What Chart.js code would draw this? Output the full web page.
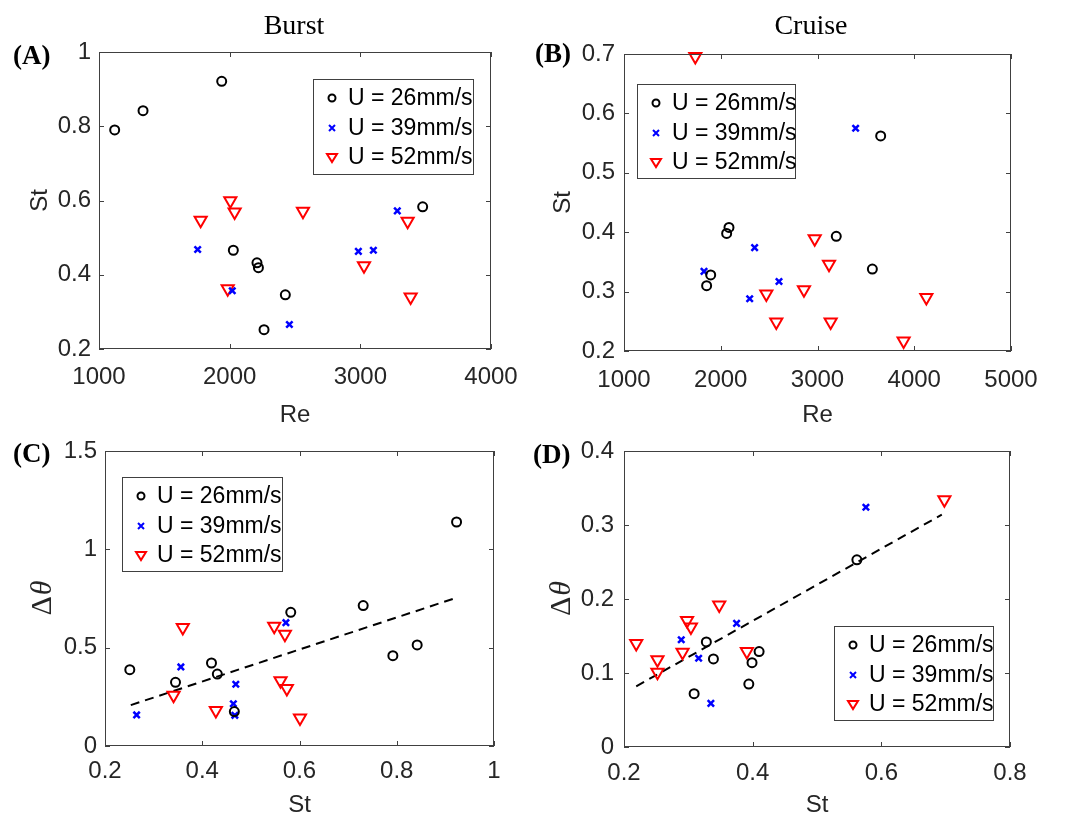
<!DOCTYPE html>
<html>
<head>
<meta charset="utf-8">
<script src="https://cdn.jsdelivr.net/npm/chart.js@4.4.1/dist/chart.umd.min.js"></script>
<style>
  body { margin: 0; background: #fff; }
  #wrap { position: relative; width: 1076px; height: 820px; overflow: hidden; }
  canvas { position: absolute; }
  .lbl { position: absolute; font-family: "Liberation Serif", "Times New Roman", serif; color: #000; line-height: 1; white-space: nowrap; }
  .ttl { font-size: 28px; transform: translateX(-50%); }
  .tag { font-size: 27px; font-weight: bold; }
</style>
</head>
<body>
<div id="wrap">
  <canvas id="panelA" width="538" height="440" style="left:0;top:0"></canvas>
  <canvas id="panelB" width="538" height="440" style="left:538px;top:0"></canvas>
  <canvas id="panelC" width="538" height="400" style="left:0;top:420px"></canvas>
  <canvas id="panelD" width="538" height="400" style="left:538px;top:420px"></canvas>
  <div class="lbl ttl" style="left:294px;top:11px">Burst</div>
  <div class="lbl ttl" style="left:811px;top:11px">Cruise</div>
  <div class="lbl tag" style="left:13px;top:42px">(A)</div>
  <div class="lbl tag" style="left:535px;top:40px">(B)</div>
  <div class="lbl tag" style="left:13px;top:440px">(C)</div>
  <div class="lbl tag" style="left:533px;top:441px">(D)</div>
</div>
<script>
// legend text
const legendLabels = ["U = 26mm/s", "U = 39mm/s", "U = 52mm/s"];

// (A) Burst: Re vs St
const burstRe26 = [1120, 1337, 1939, 2028, 2209, 2220, 2426, 2263, 3477];
const burstSt26 = [0.790, 0.842, 0.921, 0.466, 0.432, 0.419, 0.346, 0.252, 0.583];
const burstRe39 = [1755, 2020, 2457, 2985, 3100, 3283];
const burstSt39 = [0.468, 0.357, 0.266, 0.463, 0.466, 0.572];
const burstRe52 = [1778, 2005, 2038, 1985, 2561, 3028, 3362, 3385];
const burstSt52 = [0.547, 0.599, 0.569, 0.362, 0.571, 0.424, 0.544, 0.340];

// (B) Cruise: Re vs St
const cruiseRe26 = [1854, 1896, 2061, 2085, 3194, 3567, 3653];
const cruiseSt26 = [0.310, 0.328, 0.398, 0.408, 0.393, 0.338, 0.562];
const cruiseRe39 = [1827, 2299, 2350, 2602, 3394];
const cruiseSt39 = [0.334, 0.288, 0.374, 0.317, 0.575];
const cruiseRe52 = [1737, 2471, 2574, 2860, 2971, 3119, 3136, 3890, 4125];
const cruiseSt52 = [0.696, 0.296, 0.249, 0.303, 0.389, 0.346, 0.249, 0.217, 0.290];

// (C) Burst: St vs delta theta
const burstStC26 = [0.251, 0.345, 0.419, 0.431, 0.466, 0.582, 0.731, 0.792, 0.842, 0.923];
const burstDth26 = [0.388, 0.324, 0.422, 0.366, 0.175, 0.680, 0.714, 0.459, 0.514, 1.139];
const burstStC39 = [0.265, 0.356, 0.464, 0.467, 0.469, 0.572];
const burstDth39 = [0.158, 0.402, 0.215, 0.156, 0.314, 0.627];
const burstStC52 = [0.341, 0.360, 0.428, 0.548, 0.561, 0.570, 0.574, 0.601];
const burstDth52 = [0.258, 0.602, 0.180, 0.609, 0.332, 0.568, 0.293, 0.142];
const burstFitSt = [0.253, 0.923];
const burstFitDth = [0.208, 0.754];

// (D) Cruise: St vs delta theta
const cruiseStD26 = [0.309, 0.328, 0.339, 0.394, 0.399, 0.410, 0.562];
const cruiseDth26 = [0.072, 0.142, 0.119, 0.085, 0.114, 0.129, 0.253];
const cruiseStD39 = [0.289, 0.316, 0.335, 0.375, 0.576];
const cruiseDth39 = [0.145, 0.120, 0.059, 0.167, 0.324];
const cruiseStD52 = [0.219, 0.252, 0.252, 0.291, 0.298, 0.304, 0.348, 0.391, 0.698];
const cruiseDth52 = [0.140, 0.118, 0.101, 0.128, 0.171, 0.162, 0.192, 0.129, 0.334];
const cruiseFitSt = [0.219, 0.694];
const cruiseFitDth = [0.082, 0.314];

// tick labels
const burstReTicks = [1000, 2000, 3000, 4000];
const burstStTicks = [0.2, 0.4, 0.6, 0.8, 1];
const cruiseReTicks = [1000, 2000, 3000, 4000, 5000];
const cruiseStTicks = [0.2, 0.3, 0.4, 0.5, 0.6, 0.7];
const burstStXTicks = [0.2, 0.4, 0.6, 0.8, 1];
const burstDthTicks = [0, 0.5, 1, 1.5];
const cruiseStXTicks = [0.2, 0.4, 0.6, 0.8];
const cruiseDthTicks = [0, 0.1, 0.2, 0.3, 0.4];

const axisColor = "#262626";
const tickFont = { family: "Liberation Sans, Arial, sans-serif", size: 24 };

const markerStyles = [
  { pointStyle: "circle", pointRadius: 4.5, pointBorderWidth: 2, borderColor: "#000000", backgroundColor: "rgba(0,0,0,0)" },
  { pointStyle: "crossRot", pointRadius: 4.5, pointBorderWidth: 2.5, borderColor: "#0000ff", backgroundColor: "rgba(0,0,0,0)" },
  { pointStyle: "triangle", pointRotation: 180, pointRadius: 7, pointBorderWidth: 2, borderColor: "#ff0000", backgroundColor: "rgba(0,0,0,0)" },
];

// box + inward ticks on all four sides, matlab style
const frameBox = {
  id: "frameBox",
  afterDatasetsDraw(chart) {
    const { ctx, chartArea: a, scales: { x, y } } = chart;
    ctx.save();
    ctx.strokeStyle = "#404040";
    ctx.lineWidth = 1;
    ctx.strokeRect(a.left + 0.5, a.top + 0.5, a.right - a.left - 1, a.bottom - a.top - 1);
    ctx.beginPath();
    x.ticks.forEach(t => {
      const px = Math.round(x.getPixelForValue(t.value)) + 0.5;
      ctx.moveTo(px, a.bottom); ctx.lineTo(px, a.bottom - 5);
      ctx.moveTo(px, a.top); ctx.lineTo(px, a.top + 5);
    });
    y.ticks.forEach(t => {
      const py = Math.round(y.getPixelForValue(t.value)) + 0.5;
      ctx.moveTo(a.left, py); ctx.lineTo(a.left + 5, py);
      ctx.moveTo(a.right, py); ctx.lineTo(a.right - 5, py);
    });
    ctx.stroke();
    ctx.restore();
  }
};

function drawMarker(ctx, style, x, y) {
  ctx.beginPath();
  if (style === "circle") {
    ctx.arc(x, y, 3.5, 0, Math.PI * 2);
  } else if (style === "crossRot") {
    ctx.moveTo(x - 3, y - 3); ctx.lineTo(x + 3, y + 3);
    ctx.moveTo(x + 3, y - 3); ctx.lineTo(x - 3, y + 3);
  } else {
    ctx.moveTo(x - 5, y - 3); ctx.lineTo(x + 5, y - 3); ctx.lineTo(x, y + 5); ctx.closePath();
  }
  ctx.stroke();
}

// legend box placed inside the axes
const insideLegend = {
  id: "insideLegend",
  afterDraw(chart, args, opts) {
    const { ctx, chartArea: a } = chart;
    const bx = a.left + opts.dx, by = a.top + opts.dy;
    ctx.save();
    ctx.fillStyle = "#fff";
    ctx.fillRect(bx, by, opts.w, opts.h);
    ctx.strokeStyle = "#404040";
    ctx.lineWidth = 1;
    ctx.strokeRect(bx + 0.5, by + 0.5, opts.w, opts.h);
    ctx.font = "23px Liberation Sans, Arial, sans-serif";
    ctx.textBaseline = "middle";
    const rows = [19, 49, 78];
    chart.data.datasets.slice(0, 3).forEach((ds, i) => {
      ctx.strokeStyle = ds.borderColor;
      ctx.lineWidth = 2;
      drawMarker(ctx, ds.pointStyle, bx + 19, by + rows[i]);
      ctx.fillStyle = "#000";
      ctx.fillText(ds.label, bx + 35, by + rows[i] + 1);
    });
    ctx.restore();
  }
};

// y title with upright delta and italic theta
const deltaTitle = {
  id: "deltaTitle",
  afterDraw(chart, args, opts) {
    if (!opts.show) return;
    const { ctx, chartArea: a } = chart;
    ctx.save();
    ctx.translate(opts.x, (a.top + a.bottom) / 2);
    ctx.rotate(-Math.PI / 2);
    ctx.fillStyle = axisColor;
    ctx.textBaseline = "middle";
    const up = "30px Liberation Serif, Times New Roman, serif";
    const it = "italic 30px Liberation Serif, Times New Roman, serif";
    ctx.font = up; const w1 = ctx.measureText("Δ").width;
    ctx.font = it; const w2 = ctx.measureText("θ").width;
    const x0 = -(w1 + w2) / 2;
    ctx.font = up; ctx.fillText("Δ", x0, 0);
    ctx.font = it; ctx.fillText("θ", x0 + w1 + 1, 0);
    ctx.restore();
  }
};

const pts = (xs, ys) => xs.map((x, i) => ({ x, y: ys[i] }));

function axis(ticks, size, pad, title, titlePad, horizontal) {
  return {
    type: "linear",
    min: ticks[0],
    max: ticks[ticks.length - 1],
    afterBuildTicks: s => { s.ticks = ticks.map(v => ({ value: v })); },
    afterFit: s => { if (horizontal) s.height = size; else s.width = size; },
    grid: { display: false, drawTicks: false, tickLength: 0 },
    border: { display: false },
    ticks: {
      font: tickFont, color: axisColor, padding: pad, autoSkip: false, maxRotation: 0,
      callback: v => String(Math.round(v * 100) / 100)
    },
    title: {
      display: !!title, text: title, color: axisColor, font: tickFont,
      padding: horizontal ? { top: 0, bottom: titlePad } : { top: titlePad, bottom: 0 }
    }
  };
}

function panel(id, o) {
  const datasets = o.series.map((s, i) => ({
    label: legendLabels[i],
    data: pts(s[0], s[1]),
    clip: false,
    ...markerStyles[i]
  }));
  if (o.fit) {
    datasets.push({
      type: "line",
      label: "fit",
      data: pts(o.fit[0], o.fit[1]),
      borderColor: "#000",
      borderWidth: 2,
      borderDash: [9, 6],
      pointRadius: 0,
      fill: false,
      showLine: true
    });
  }
  new Chart(document.getElementById(id), {
    type: "scatter",
    data: { datasets },
    options: {
      responsive: false,
      animation: false,
      layout: { padding: { top: o.top, right: o.right, left: 0, bottom: 0 } },
      plugins: {
        legend: { display: false },
        tooltip: { enabled: false },
        insideLegend: o.legend,
        deltaTitle: o.delta || { show: false }
      },
      scales: {
        x: axis(o.xTicks, o.xSize, o.xPad, o.xTitle, o.xTitlePad, true),
        y: axis(o.yTicks, o.ySize, o.yPad, o.yTitle, o.yTitlePad, false)
      }
    },
    plugins: [frameBox, insideLegend, deltaTitle]
  });
}

panel("panelA", {
  series: [[burstRe26, burstSt26], [burstRe39, burstSt39], [burstRe52, burstSt52]],
  xTicks: burstReTicks, yTicks: burstStTicks,
  top: 52, right: 47, xSize: 91, ySize: 99, xPad: 14, yPad: 8,
  xTitle: "Re", xTitlePad: 10, yTitle: "St", yTitlePad: 26,
  legend: { dx: 214, dy: 27, w: 160, h: 95 }
});

panel("panelB", {
  series: [[cruiseRe26, cruiseSt26], [cruiseRe39, cruiseSt39], [cruiseRe52, cruiseSt52]],
  xTicks: cruiseReTicks, yTicks: cruiseStTicks,
  top: 54, right: 65, xSize: 89, ySize: 86, xPad: 15, yPad: 9,
  xTitle: "Re", xTitlePad: 10, yTitle: "St", yTitlePad: 11,
  legend: { dx: 13, dy: 30, w: 158, h: 94 }
});

panel("panelC", {
  series: [[burstStC26, burstDth26], [burstStC39, burstDth39], [burstStC52, burstDth52]],
  fit: [burstFitSt, burstFitDth],
  xTicks: burstStXTicks, yTicks: burstDthTicks,
  top: 31, right: 44, xSize: 74, ySize: 105, xPad: 11, yPad: 8,
  xTitle: "St", xTitlePad: 0, yTitle: "", yTitlePad: 0,
  legend: { dx: 17, dy: 26, w: 160, h: 94 },
  delta: { show: true, x: 43 }
});

panel("panelD", {
  series: [[cruiseStD26, cruiseDth26], [cruiseStD39, cruiseDth39], [cruiseStD52, cruiseDth52]],
  fit: [cruiseFitSt, cruiseFitDth],
  xTicks: cruiseStXTicks, yTicks: cruiseDthTicks,
  top: 31, right: 66, xSize: 73, ySize: 86, xPad: 12, yPad: 10,
  xTitle: "St", xTitlePad: 0, yTitle: "", yTitlePad: 0,
  legend: { dx: 210, dy: 175, w: 159, h: 94 },
  delta: { show: true, x: 24 }
});
</script>
</body>
</html>
